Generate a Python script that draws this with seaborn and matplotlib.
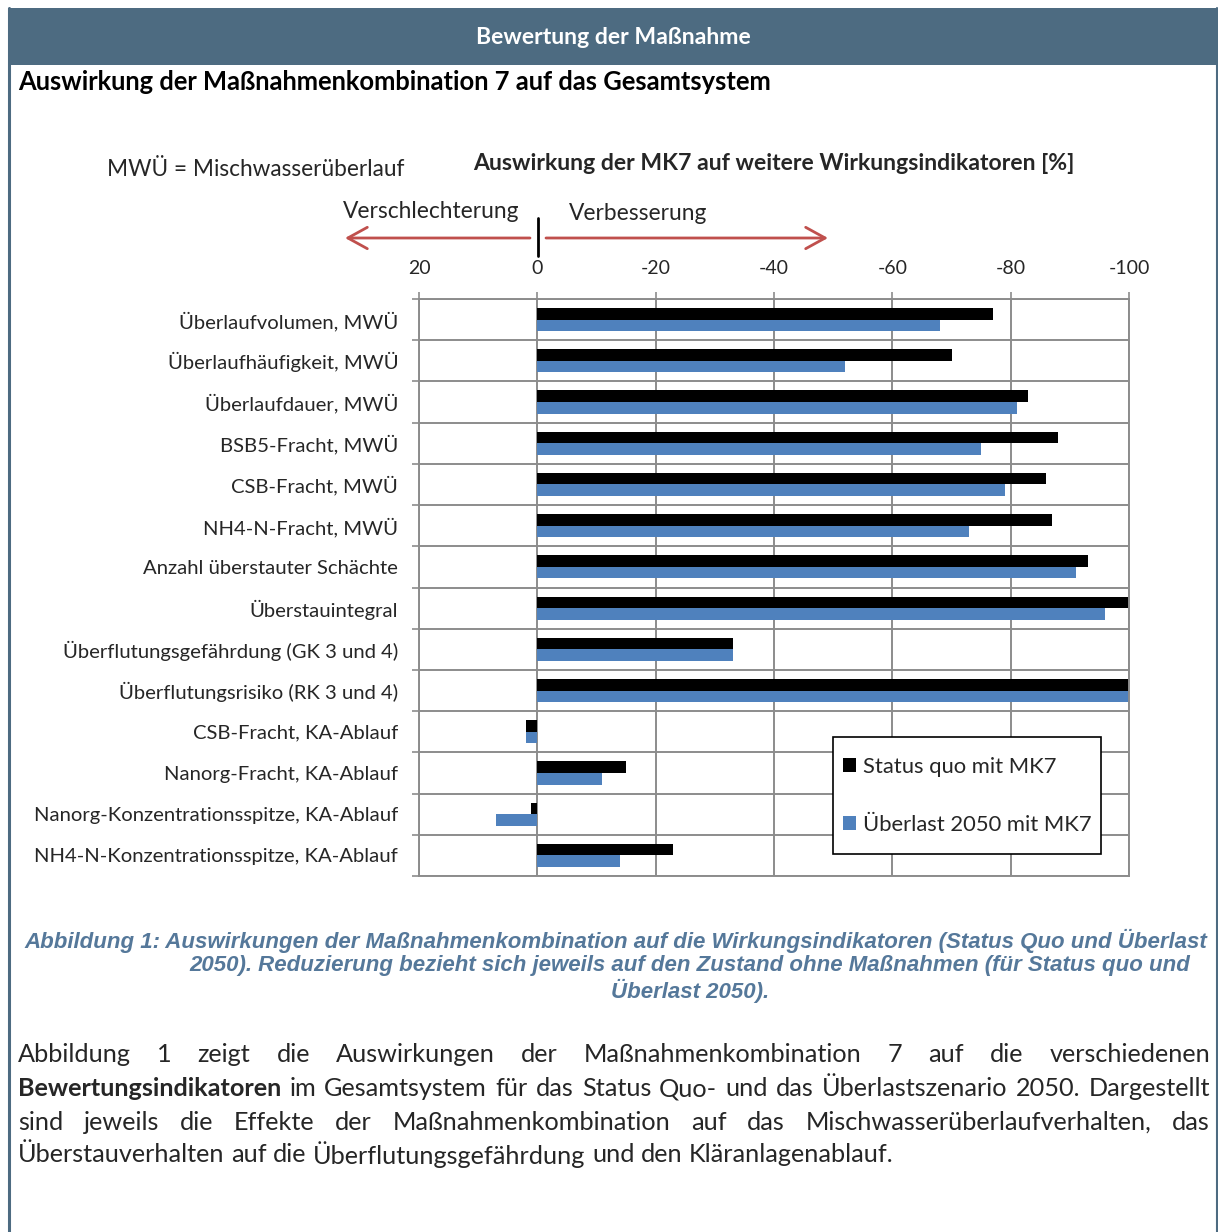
import matplotlib
matplotlib.use("Agg")
import matplotlib.pyplot as plt
from matplotlib.lines import Line2D
from matplotlib.patches import Rectangle, FancyArrowPatch
from matplotlib.ticker import FixedLocator
import numpy as np
import pandas as pd
import seaborn as sns

# ---- data -------------------------------------------------------------
indicators = [
    "Überlaufvolumen, MWÜ",
    "Überlaufhäufigkeit, MWÜ",
    "Überlaufdauer, MWÜ",
    "BSB5-Fracht, MWÜ",
    "CSB-Fracht, MWÜ",
    "NH4-N-Fracht, MWÜ",
    "Anzahl überstauter Schächte",
    "Überstauintegral",
    "Überflutungsgefährdung (GK 3 und 4)",
    "Überflutungsrisiko (RK 3 und 4)",
    "CSB-Fracht, KA-Ablauf",
    "Nanorg-Fracht, KA-Ablauf",
    "Nanorg-Konzentrationsspitze, KA-Ablauf",
    "NH4-N-Konzentrationsspitze, KA-Ablauf",
]
status_quo = [-77, -70, -83, -88, -86, -87, -93, -100, -33, -100, 2, -15, 1, -23]
ueberlast_2050 = [-68, -52, -81, -75, -79, -73, -91, -96, -33, -100, 2, -11, 7, -14]
series_names = ["Status quo mit MK7", "Überlast 2050 mit MK7"]
x_ticks = [20, 0, -20, -40, -60, -80, -100]
x_tick_labels = ["20", "0", "-20", "-40", "-60", "-80", "-100"]

df = pd.DataFrame({
    "Indikator": indicators * 2,
    "Wert": status_quo + ueberlast_2050,
    "Szenario": [series_names[0]] * len(indicators) + [series_names[1]] * len(indicators),
})

# ---- page layout --------------------------------------------------------
W, H = 1218, 1232
sns.set_theme(style="white")
plt.rcParams["font.family"] = ["Lato", "DejaVu Sans"]
plt.rcParams["axes.unicode_minus"] = False

fig = plt.figure(figsize=(W / 100, H / 100), dpi=100)
fig.patch.set_facecolor("white")


def fx(px):
    return px / W


def fy(py):
    return 1 - py / H


frame_col = "#4D6B81"
grid_col = "#8C8C8C"
bar_blue = "#4F81BD"
arrow_red = "#C0504D"

# header bar and page frame
fig.add_artist(Rectangle((fx(8), fy(65)), fx(1218) - fx(8), fy(8) - fy(65),
                         transform=fig.transFigure, facecolor=frame_col,
                         edgecolor="none"))
fig.add_artist(Line2D([fx(9), fx(9)], [fy(8), fy(1232)], transform=fig.transFigure,
                      color=frame_col, lw=2.2))
fig.add_artist(Line2D([fx(1216.5), fx(1216.5)], [fy(8), fy(1232)],
                      transform=fig.transFigure, color=frame_col, lw=1.5))

fig.text(fx(613), fy(37), "Bewertung der Maßnahme", color="white",
         fontsize=16.6, fontweight="bold", ha="center", va="center")
fig.text(fx(18), fy(82), "Auswirkung der Maßnahmenkombination 7 auf das Gesamtsystem",
         color="black", fontsize=18.4, fontweight="bold", ha="left", va="center")

# chart headings
fig.text(fx(107), fy(169), "MWÜ = Mischwasserüberlauf", fontsize=16.3,
         ha="left", va="center")
fig.text(fx(774), fy(164), "Auswirkung der MK7 auf weitere Wirkungsindikatoren [%]",
         fontsize=16.6, fontweight="bold", ha="center", va="center")
fig.text(fx(519), fy(212), "Verschlechterung", fontsize=16.4, ha="right", va="center")
fig.text(fx(569), fy(214), "Verbesserung", fontsize=16.4, ha="left", va="center")

# direction arrows
fig.add_artist(Line2D([fx(538), fx(538)], [fy(218), fy(256)],
                      transform=fig.transFigure, color="black", lw=2))
arrow_style = dict(arrowstyle="->,head_length=1.0,head_width=0.55",
                   color=arrow_red, lw=2, shrinkA=0, shrinkB=0)
fig.add_artist(FancyArrowPatch((fx(530), fy(238)), (fx(345), fy(238)),
                               transform=fig.transFigure, mutation_scale=14,
                               **arrow_style))
fig.add_artist(FancyArrowPatch((fx(546), fy(238)), (fx(828), fy(238)),
                               transform=fig.transFigure, mutation_scale=14,
                               **arrow_style))

# ---- bar chart ----------------------------------------------------------
ax = fig.add_axes([fx(419), fy(876), fx(1129) - fx(419), fy(299) - fy(876)])
sns.barplot(data=df, y="Indikator", x="Wert", hue="Szenario", order=indicators,
            hue_order=series_names, palette=["black", bar_blue], orient="h",
            width=0.56, saturation=1, errorbar=None, ax=ax,
            edgecolor="none", linewidth=0)
ax.set_xlim(20, -100)
ax.set_ylim(len(indicators) - 0.5, -0.5)
ax.set_xlabel("")
ax.set_ylabel("")

ax.xaxis.tick_top()
ax.set_xticks(x_ticks)
ax.set_xticklabels(x_tick_labels, fontsize=14)
ax.tick_params(axis="x", which="major", direction="out", length=5, width=1.2,
               color=grid_col, pad=11)
ax.grid(axis="x", which="major", color=grid_col, lw=1.4)

ax.set_yticks(range(len(indicators)))
ax.set_yticklabels(indicators, fontsize=14.6)
ax.tick_params(axis="y", which="major", length=0, pad=15)
ax.yaxis.set_minor_locator(FixedLocator(np.arange(-0.5, len(indicators), 1.0)))
ax.tick_params(axis="y", which="minor", direction="out", length=5, width=1.2,
               color=grid_col, left=True)
ax.grid(axis="y", which="minor", color=grid_col, lw=1.4)
ax.set_axisbelow(True)
for s in ax.spines.values():
    s.set_visible(True)
    s.set_color(grid_col)
    s.set_linewidth(1.4)

# legend: box drawn separately so its padding can differ per side
legend_box = Rectangle((fx(833), fy(854)), fx(1101) - fx(833), fy(737) - fy(854),
                       transform=fig.transFigure, facecolor="white",
                       edgecolor="black", lw=1.2, zorder=4.5, clip_on=False)
ax.add_patch(legend_box)
leg = ax.legend(loc="center left", bbox_to_anchor=(fx(843), fy(796)),
                bbox_transform=fig.transFigure, frameon=False, fontsize=15.8,
                handlelength=0.6, handleheight=0.6, handletextpad=0.3,
                labelspacing=1.72, borderpad=0.0, borderaxespad=0)
leg.set_zorder(5)

# ---- caption -------------------------------------------------------------
cap_col = "#55789A"
cap_kw = dict(fontsize=16.0, fontweight="bold", fontstyle="italic",
              color=cap_col, family=["Liberation Sans", "DejaVu Sans"],
              va="center")
fig.text(fx(616), fy(941), "Abbildung 1: Auswirkungen der Maßnahmenkombination auf die "
         "Wirkungsindikatoren (Status Quo und Überlast", ha="center", **cap_kw)
fig.text(fx(690), fy(966), "2050). Reduzierung bezieht sich jeweils auf den Zustand ohne "
         "Maßnahmen (für Status quo und", ha="center", **cap_kw)
fig.text(fx(690), fy(991), "Überlast 2050).", ha="center", **cap_kw)

# ---- justified body text -------------------------------------------------
body_lines = [
    ([("Abbildung", False), ("1", False), ("zeigt", False), ("die", False),
      ("Auswirkungen", False), ("der", False), ("Maßnahmenkombination", False),
      ("7", False), ("auf", False), ("die", False), ("verschiedenen", False)], True),
    ([("Bewertungsindikatoren", True), ("im", False), ("Gesamtsystem", False),
      ("für", False), ("das", False), ("Status", False), ("Quo-", False),
      ("und", False), ("das", False), ("Überlastszenario", False), ("2050.", False),
      ("Dargestellt", False)], True),
    ([("sind", False), ("jeweils", False), ("die", False), ("Effekte", False),
      ("der", False), ("Maßnahmenkombination", False), ("auf", False), ("das", False),
      ("Mischwasserüberlaufverhalten,", False), ("das", False)], True),
    ([("Überstauverhalten", False), ("auf", False), ("die", False),
      ("Überflutungsgefährdung", False), ("und", False), ("den", False),
      ("Kläranlagenablauf.", False)], False),
]
body_y = [1055, 1089, 1122, 1155]
left_px, right_px = 18, 1210
body_size = 18.2

renderer = fig.canvas.get_renderer()
space_t = fig.text(0, 0, "a b", fontsize=body_size)
nospace_t = fig.text(0, 0, "ab", fontsize=body_size)
space_w = (space_t.get_window_extent(renderer).width
           - nospace_t.get_window_extent(renderer).width)
space_t.remove()
nospace_t.remove()

for (words, justify), ypx in zip(body_lines, body_y):
    texts = [fig.text(0, fy(ypx), w, fontsize=body_size,
                      fontweight="bold" if b else "normal",
                      ha="left", va="center") for w, b in words]
    widths = [t.get_window_extent(renderer).width for t in texts]
    if justify:
        gap = (right_px - left_px - sum(widths)) / (len(words) - 1)
    else:
        gap = space_w
    x = left_px
    for t, w in zip(texts, widths):
        t.set_x(fx(x))
        x += w + gap

fig.savefig("out.png", dpi=100, facecolor="white")
